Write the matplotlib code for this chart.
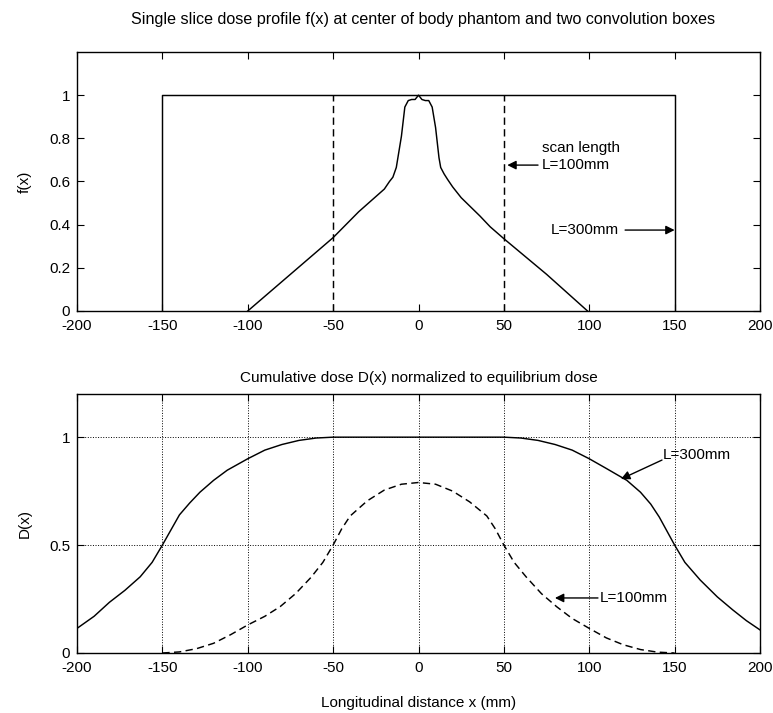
import matplotlib
matplotlib.use('Agg')
import matplotlib.pyplot as plt

plt.rcParams['font.family'] = ['Liberation Sans', 'DejaVu Sans']
plt.rcParams['font.size'] = 11

# ---- data ----
# single slice dose profile f(x)
profile_x = [-100, -75, -50, -35, -25, -20, -17, -15, -13, -10, -8, -6, -4, -2, -1, 0,
             1, 2, 4, 6, 8, 10, 12, 13, 15, 17, 20, 25, 36, 42, 50, 75, 99]
profile_y = [0, 0.17, 0.34, 0.46, 0.53, 0.565, 0.60, 0.62, 0.665, 0.81, 0.945, 0.975, 0.98, 0.98, 0.99, 1.0,
             0.99, 0.98, 0.975, 0.975, 0.945, 0.85, 0.71, 0.665, 0.635, 0.61, 0.575, 0.525, 0.44, 0.39, 0.335, 0.17, 0]

# convolution boxes (scan lengths)
box300_x = [-150, -150, 150, 150]
box300_y = [0, 1, 1, 0]
box100_left_x = [-50, -50]
box100_right_x = [50, 50]
box100_y = [0, 1]

# cumulative dose, L=300mm
d300_x = [-200, -190, -181, -172, -163, -156, -150, -145, -140, -134, -128, -120, -112, -100, -90, -80, -70, -60, -50,
          50, 60, 70, 80, 90, 100, 110, 122, 130, 136, 141, 150, 156, 165, 175, 184, 192, 200]
d300_y = [0.114, 0.17, 0.235, 0.29, 0.353, 0.42, 0.50, 0.57, 0.64, 0.695, 0.745, 0.80, 0.847, 0.90, 0.94, 0.966, 0.985, 0.996, 1.0,
          1.0, 0.996, 0.985, 0.966, 0.94, 0.90, 0.855, 0.80, 0.745, 0.69, 0.63, 0.50, 0.42, 0.338, 0.26, 0.20, 0.15, 0.107]

# cumulative dose, L=100mm
d100_x = [-150, -140, -130, -120, -110, -100, -90, -81, -72, -63, -56, -50, -45, -40, -30, -20, -10, 0,
          10, 20, 30, 40, 45, 50, 56, 63, 72, 81, 90, 100, 110, 120, 130, 140, 150]
d100_y = [0, 0.005, 0.02, 0.045, 0.085, 0.13, 0.17, 0.215, 0.275, 0.35, 0.42, 0.50, 0.575, 0.635, 0.705, 0.755, 0.782, 0.79,
          0.782, 0.75, 0.70, 0.635, 0.575, 0.50, 0.42, 0.353, 0.275, 0.214, 0.16, 0.114, 0.07, 0.038, 0.016, 0.004, 0]

x_ticks = [-200, -150, -100, -50, 0, 50, 100, 150, 200]
f_ticks = [0, 0.2, 0.4, 0.6, 0.8, 1]
f_ticklabels = ['0', '0.2', '0.4', '0.6', '0.8', '1']
d_ticks = [0, 0.5, 1]
d_ticklabels = ['0', '0.5', '1']

# ---- figure ----
W, H = 773, 713
fig = plt.figure(figsize=(W / 100, H / 100), dpi=100)
ax_l, ax_w = 77 / W, 683 / W
ax_h = 259 / H
ax1 = fig.add_axes([ax_l, 1 - 311 / H, ax_w, ax_h])
ax2 = fig.add_axes([ax_l, 1 - 653 / H, ax_w, ax_h])

for ax in (ax1, ax2):
    ax.set_xlim(-200, 200)
    ax.set_ylim(0, 1.2)
    ax.set_xticks(x_ticks)
    ax.set_xticklabels([str(t) for t in x_ticks])
    ax.tick_params(direction='in', length=5, width=0.8, top=True, right=True, labelsize=11)
    ax.tick_params(axis='x', pad=6)
    ax.tick_params(axis='y', pad=5)
    for sp in ax.spines.values():
        sp.set_linewidth(1.0)

lw = 1.05

# top: profile and boxes
ax1.plot(box300_x, box300_y, color='black', lw=lw)
ax1.plot(box100_left_x, box100_y, color='black', lw=lw, dashes=(5, 3))
ax1.plot(box100_right_x, box100_y, color='black', lw=lw, dashes=(5, 3))
ax1.plot(profile_x, profile_y, color='black', lw=lw)
ax1.set_yticks(f_ticks)
ax1.set_yticklabels(f_ticklabels)
ax1.set_ylabel('f(x)', va='center')
ax1.yaxis.set_label_coords(-52 / 683, 0.5)
ax1.text(0.507, 1 + 32 / 259, 'Single slice dose profile f(x) at center of body phantom and two convolution boxes',
         transform=ax1.transAxes, ha='center', va='center', fontsize=11.6)

arrow = dict(arrowstyle='-|>', color='black', lw=1, mutation_scale=13, shrinkA=0, shrinkB=0)
ax1.text(72.3, 0.755, 'scan length', ha='left', va='center', fontsize=11)
ax1.text(72.3, 0.676, 'L=100mm', ha='left', va='center', fontsize=11)
ax1.annotate('', xy=(52, 0.676), xytext=(70, 0.676), arrowprops=arrow)
ax1.text(77.6, 0.375, 'L=300mm', ha='left', va='center', fontsize=11)
ax1.annotate('', xy=(150, 0.375), xytext=(121, 0.375), arrowprops=arrow)

# bottom: cumulative dose
ax2.grid(True, linestyle=':', color='black', lw=0.7)
ax2.plot(d300_x, d300_y, color='black', lw=lw)
ax2.plot(d100_x, d100_y, color='black', lw=lw, dashes=(5, 3))
ax2.set_yticks(d_ticks)
ax2.set_yticklabels(d_ticklabels)
ax2.set_ylabel('D(x)', va='center')
ax2.yaxis.set_label_coords(-52 / 683, 0.5)
ax2.text(0.5, 1 + 16 / 259, 'Cumulative dose D(x) normalized to equilibrium dose',
         transform=ax2.transAxes, ha='center', va='center', fontsize=11)
ax2.set_xlabel('Longitudinal distance x (mm)', va='center')
ax2.xaxis.set_label_coords(0.5, -50 / 259)

ax2.text(143.2, 0.917, 'L=300mm', ha='left', va='center', fontsize=11)
ax2.annotate('', xy=(118.6, 0.806), xytext=(142.6, 0.894), arrowprops=arrow)
ax2.text(106.3, 0.255, 'L=100mm', ha='left', va='center', fontsize=11)
ax2.annotate('', xy=(79.9, 0.255), xytext=(105.1, 0.255), arrowprops=arrow)

fig.savefig('out.png', dpi=100, facecolor='white')
